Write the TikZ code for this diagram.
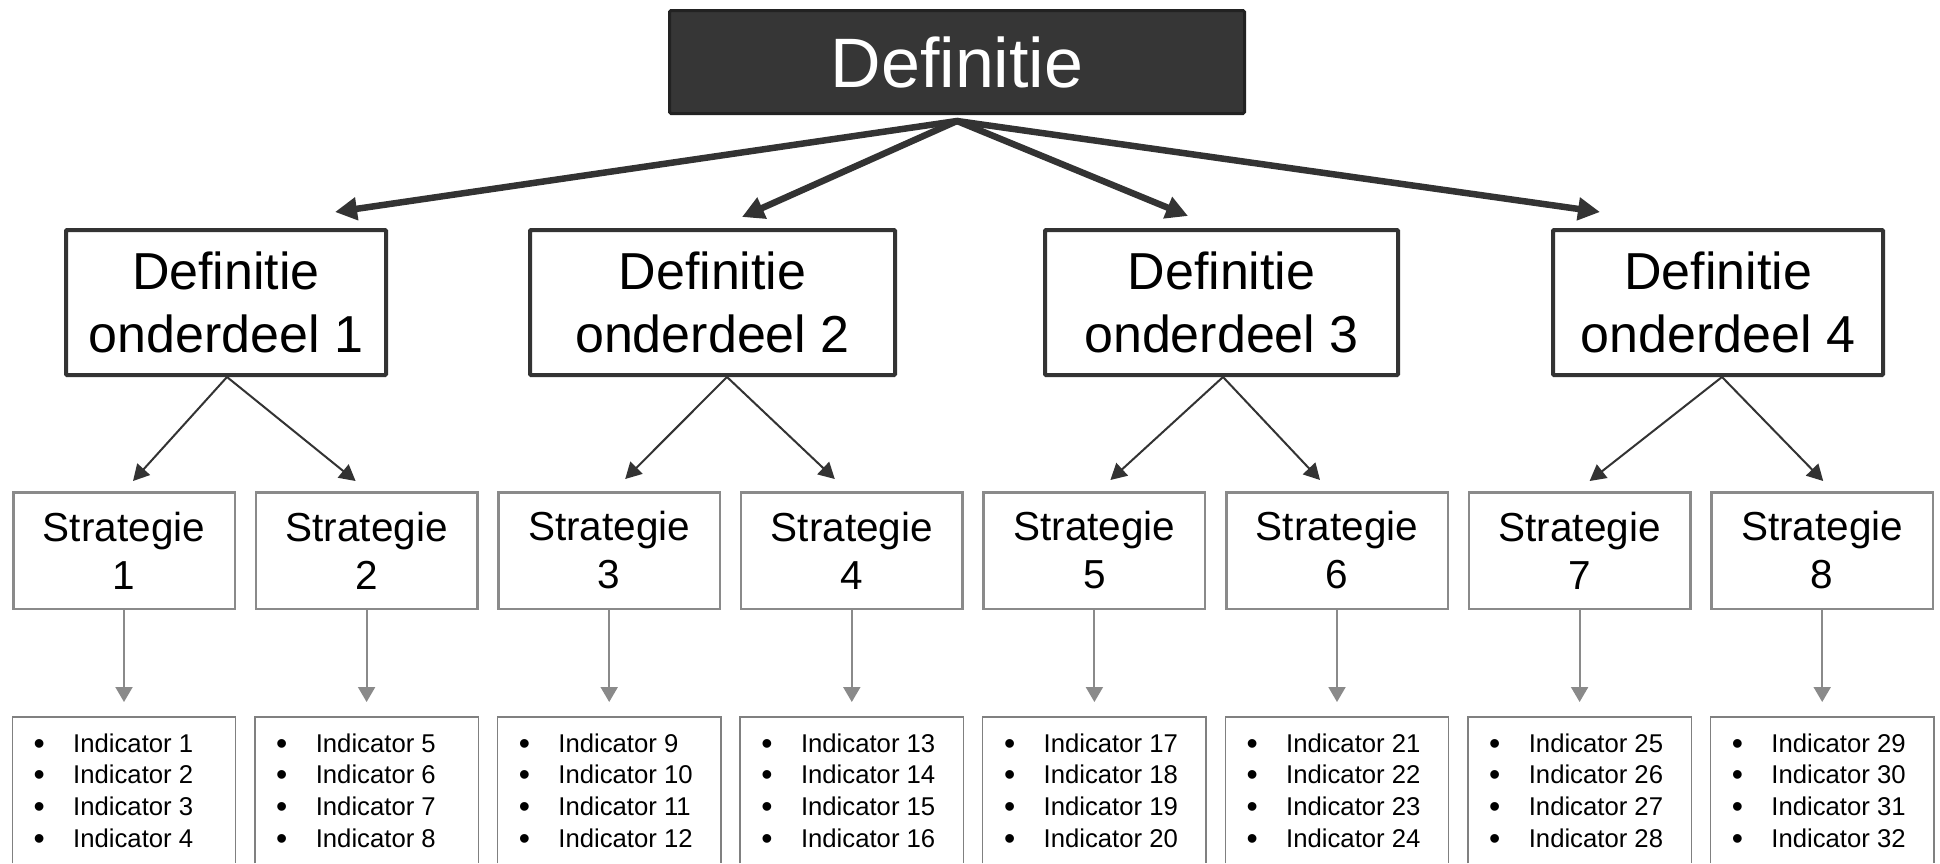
\documentclass[tikz,border=0pt]{standalone}
\usepackage{fontspec}
\setmainfont{Liberation Sans}
\usetikzlibrary{arrows.meta}
\definecolor{topfill}{HTML}{363636}
\definecolor{topedge}{HTML}{222222}
\definecolor{dk}{HTML}{333333}
\definecolor{gr}{HTML}{8A8A8A}
\definecolor{grind}{HTML}{808080}
\begin{document}
\begin{tikzpicture}[x=1pt,y=-1pt,
 topbox/.style={draw=topedge, fill=topfill, line width=3pt, rounded corners=1.5pt, minimum width=575pt, minimum height=103pt, inner sep=0pt, text=white, font=\fontsize{70}{84}\selectfont},
 defbox/.style={draw=dk, fill=white, line width=4pt, rounded corners=1pt, minimum height=145pt, inner sep=0pt, align=center, font=\fontsize{52}{63}\selectfont},
 stratbox/.style={draw=gr, fill=white, line width=2.5pt, minimum width=221.5pt, minimum height=116.5pt, inner sep=0pt, align=center, font=\fontsize{40.5}{48}\selectfont},
 indbox/.style={minimum width=223pt, minimum height=146pt, inner sep=0pt},
 indedge/.style={draw=grind, line width=1.5pt},
 indtext/.style={inner sep=0pt, font=\fontsize{25.7}{31.7}\selectfont},
 bigarrow/.style={draw=dk, line width=6.5pt, line cap=round, -{Triangle[length=22pt,width=22pt]}},
 midarrow/.style={draw=dk, line width=2pt, -{Triangle[length=16pt,width=17pt]}},
 grayarrow/.style={draw=gr, line width=2pt, -{Triangle[length=15pt,width=17pt]}},
]
\useasboundingbox (0,0) rectangle (1940,863);
\fill[white] (0,0) rectangle (1940,863);

% top node
\node[topbox] (top) at (957,62) {Definitie};

% definition parts
\node[defbox, minimum width=320pt] (d1) at (226,302.5) {Definitie\\onderdeel 1};
\node[defbox, minimum width=365pt] (d2) at (712.5,302.5) {Definitie\\onderdeel 2};
\node[defbox, minimum width=353pt] (d3) at (1221.5,302.5) {Definitie\\onderdeel 3};
\node[defbox, minimum width=330pt] (d4) at (1718,302.5) {Definitie\\onderdeel 4};

% big arrows
\coordinate (o) at (957,121);
\coordinate (a1) at (335,212);
\coordinate (a2) at (742,217);
\coordinate (a3) at (1188,216);
\coordinate (a4) at (1600,212);
\foreach \j in {1,...,4} {\draw[bigarrow] (o) -- (a\j);}

% strategies and indicators
\foreach \i in {1,...,8} {
  \pgfmathsetmacro\L{12+242.6*(\i-1)}
  \node[stratbox] (s\i) at ({\L+112},550.5) {Strategie\\\i};
  \node[indbox, anchor=north] (ind\i) at ({\L+112},717) {};
  \draw[indedge] (ind\i.south west) -- (ind\i.north west) -- (ind\i.north east) -- (ind\i.south east);
  \draw[grayarrow] (s\i.south) -- ([yshift=15pt]ind\i.north);
  \foreach \k in {1,...,4} {
    \pgfmathtruncatemacro\n{4*(\i-1)+\k}
    \node[indtext, anchor=base west] (t\n) at ({\L+1},{752+31.7*(\k-1)}) {\makebox[52pt][c]{\raisebox{-2pt}{\fontsize{32}{32}\selectfont\textbullet}}\hspace{8pt}Indicator \n};
  }
}

% arrows from definition parts to strategies
\draw[midarrow] ([xshift=1pt]d1.south) -- ([xshift=9pt,yshift=10pt]s1.north);
\draw[midarrow] ([xshift=1pt]d1.south) -- ([xshift=-11pt,yshift=10pt]s2.north);
\draw[midarrow] ([xshift=14.5pt]d2.south) -- ([xshift=16pt,yshift=12pt]s3.north);
\draw[midarrow] ([xshift=14.5pt]d2.south) -- ([xshift=-17pt,yshift=12pt]s4.north);
\draw[midarrow] ([xshift=1.5pt]d3.south) -- ([xshift=16pt,yshift=11pt]s5.north);
\draw[midarrow] ([xshift=1.5pt]d3.south) -- ([xshift=-17pt,yshift=11pt]s6.north);
\draw[midarrow] ([xshift=4pt]d4.south) -- ([xshift=10pt,yshift=10pt]s7.north);
\draw[midarrow] ([xshift=4pt]d4.south) -- ([xshift=1pt,yshift=10pt]s8.north);
\end{tikzpicture}
\end{document}
